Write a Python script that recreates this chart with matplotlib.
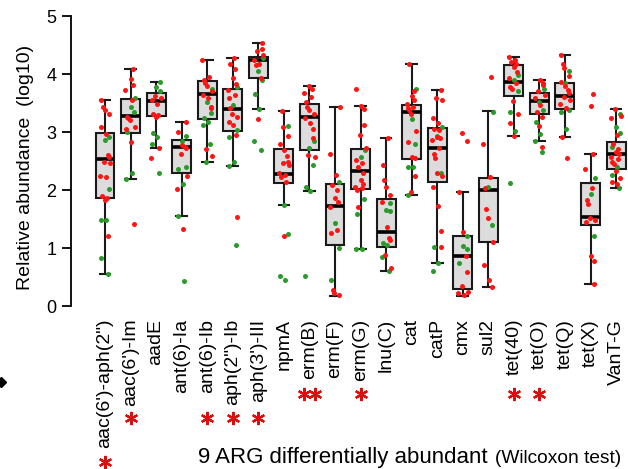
import numpy as np
import matplotlib
matplotlib.use("Agg")
import matplotlib.pyplot as plt
from matplotlib.transforms import blended_transform_factory

plt.rcParams["font.family"] = ["Liberation Sans", "DejaVu Sans"]

genes = ["aac(6')-aph(2\")", "aac(6')-Im", "aadE", "ant(6)-Ia", "ant(6)-Ib",
         "aph(2\")-Ib", "aph(3')-III", "npmA", "erm(B)", "erm(F)", "erm(G)",
         "lnu(C)", "cat", "catP", "cmx", "sul2", "tet(40)", "tet(O)", "tet(Q)",
         "tet(X)", "VanT-G"]

# box statistics (log10 relative abundance)
q1 = [1.87, 2.98, 3.28, 2.30, 3.23, 3.02, 3.94, 2.13, 2.69, 1.05, 2.01,
      1.02, 2.54, 2.14, 0.30, 1.11, 3.63, 3.32, 3.40, 1.40, 2.36]
med = [2.53, 3.28, 3.54, 2.74, 3.66, 3.40, 4.25, 2.27, 3.26, 1.72, 2.32,
       1.28, 3.34, 2.72, 0.86, 2.00, 3.87, 3.54, 3.62, 1.54, 2.62]
q3 = [2.98, 3.57, 3.68, 2.87, 3.88, 3.74, 4.29, 2.70, 3.48, 2.10, 2.70,
      1.84, 3.47, 3.07, 1.20, 2.21, 4.15, 3.68, 3.85, 2.12, 2.83]
whislo = [0.55, 2.19, 2.73, 1.55, 2.48, 2.41, 3.39, 1.74, 1.99, 0.18, 0.98,
          0.60, 1.91, 0.75, 0.18, 0.33, 2.94, 2.84, 2.91, 0.38, 2.03]
whishi = [3.56, 4.08, 3.86, 3.17, 4.24, 4.27, 4.53, 3.37, 3.79, 3.44, 3.45,
          2.89, 4.18, 3.72, 1.97, 3.37, 4.29, 3.90, 4.33, 2.63, 3.40]

# individual samples, red group
red_values = [
    [3.56, 3.43, 3.38, 3.32, 3.09, 2.96, 2.60, 2.57, 2.49, 2.46, 2.25, 2.23, 1.90, 1.87, 1.83, 1.21],
    [4.08, 3.91, 3.81, 3.72, 3.55, 3.26, 3.24, 3.21, 3.09, 3.06, 2.83, 1.42],
    [3.62, 3.58, 3.55, 3.49, 3.32, 3.29, 3.26, 2.73, 2.55],
    [3.17, 3.00, 2.78, 2.75, 2.73, 2.63, 2.24, 2.02, 1.32],
    [4.24, 3.95, 3.90, 3.84, 3.79, 3.70, 3.64, 3.58, 3.44, 3.41, 2.70, 2.59],
    [4.27, 4.17, 4.08, 3.93, 3.83, 3.72, 3.64, 3.58, 3.41, 3.32, 3.26, 3.18, 3.12, 2.95, 1.53],
    [4.53, 4.44, 4.39, 4.33, 4.24, 4.18, 4.15, 3.93, 3.22],
    [3.37, 3.08, 2.94, 2.80, 2.69, 2.59, 2.49, 2.46, 2.43, 2.29, 2.26, 2.23, 2.14, 1.20],
    [3.79, 3.74, 3.67, 3.60, 3.52, 3.44, 3.38, 3.32, 3.24, 3.15, 3.06, 2.89, 2.60, 2.57],
    [3.44, 2.63, 2.26, 2.09, 2.00, 1.86, 1.80, 1.71, 1.31, 1.26, 0.28, 0.23, 0.19],
    [3.74, 3.45, 3.39, 3.12, 2.95, 2.72, 2.52, 2.46, 2.40, 2.29, 2.17, 2.11, 2.06, 2.03, 2.00, 1.70],
    [2.89, 2.43, 2.17, 2.06, 1.91, 1.80, 1.37, 1.17, 1.14, 0.88, 0.65],
    [4.18, 3.70, 3.62, 3.56, 3.49, 3.44, 3.41, 3.38, 3.32, 3.02, 2.83, 2.57, 2.55, 2.24, 1.97],
    [3.72, 3.58, 3.56, 3.24, 3.15, 3.06, 3.03, 2.92, 2.89, 2.86, 2.72, 2.63, 2.55, 2.30, 2.24, 2.05, 1.72, 1.30, 1.01],
    [2.99, 2.84, 1.97, 1.28, 0.86, 0.59, 0.34, 0.25, 0.22, 0.19],
    [3.95, 2.79, 2.22, 2.03, 1.68, 1.51, 1.11, 0.71, 0.45, 0.33],
    [4.29, 4.25, 4.21, 4.18, 4.13, 4.03, 3.93, 3.84, 3.78, 3.74, 3.54, 3.32, 3.15, 2.94],
    [3.90, 3.85, 3.81, 3.70, 3.64, 3.58, 3.47, 3.35, 3.26, 3.10, 2.75],
    [4.33, 4.18, 4.10, 3.97, 3.87, 3.79, 3.72, 3.67, 3.60, 3.55, 3.49, 3.42, 2.91, 2.55],
    [3.65, 3.45, 2.63, 2.37, 2.03, 1.82, 1.76, 1.51, 1.48, 1.45, 0.87, 0.78, 0.38],
    [3.40, 3.28, 3.25, 2.95, 2.80, 2.70, 2.66, 2.63, 2.57, 2.53, 2.49, 2.45, 2.32, 2.20, 2.14, 2.10],
]

# individual samples, green group
green_values = [
    [2.91, 2.87, 2.02, 1.49, 1.48, 0.82, 0.55],
    [3.58, 3.44, 3.35, 3.00, 2.30, 2.19],
    [3.86, 3.78, 3.70, 2.98, 2.91, 2.80, 2.29],
    [2.93, 2.85, 2.40, 2.37, 2.11, 1.55, 0.43],
    [3.75, 3.52, 3.33, 3.24, 3.18, 3.12, 2.79, 2.48],
    [3.78, 3.47, 3.03, 2.92, 2.49, 2.41, 1.05],
    [4.28, 4.06, 3.90, 3.65, 3.39, 2.84, 2.69],
    [3.10, 1.74, 1.24, 0.52, 0.44],
    [2.84, 2.72, 2.44, 2.06, 1.99, 0.52],
    [2.14, 1.44, 1.00, 0.45],
    [2.69, 2.57, 1.84, 1.59, 0.98, 0.98],
    [1.77, 1.65, 1.63, 1.08, 1.05, 0.85, 0.60],
    [3.75, 3.22, 2.79, 2.40, 2.39, 1.91],
    [3.09, 2.93, 2.30, 1.01, 0.75, 0.61],
    [1.20, 1.03, 0.98, 0.74],
    [3.35, 2.06, 1.39],
    [3.98, 3.90, 3.70, 3.35, 3.02, 2.13],
    [3.74, 3.52, 3.38, 3.18, 2.96, 2.84, 2.65],
    [4.05, 3.84, 3.38, 3.35, 3.06],
    [2.20, 1.94, 1.21],
    [3.32, 3.09, 2.98, 2.75, 2.40, 2.26, 2.03],
]

# number of significance stars under each gene
stars = [1, 1, 0, 0, 1, 1, 1, 0, 2, 0, 1, 0, 0, 0, 0, 0, 1, 1, 0, 0, 0]

# fixed horizontal spread for the dots
jitter = [-0.14, 0.09, -0.04, 0.17, -0.2, 0.04, 0.13, -0.09, 0.0, 0.2,
          -0.16, 0.07, -0.11, 0.15, -0.02, 0.11, -0.18, 0.02]

fig = plt.figure(figsize=(6.28, 4.69), dpi=100)
ax = fig.add_axes([0.1131, 0.329, 0.887, 0.649])

pos = np.arange(1, len(genes) + 1)
stats = []
for i in range(len(genes)):
    stats.append(dict(med=med[i], q1=q1[i], q3=q3[i],
                      whislo=whislo[i], whishi=whishi[i], fliers=[]))

ax.bxp(stats, positions=pos, widths=0.74, capwidths=0.42, patch_artist=True,
       showfliers=False,
       boxprops=dict(facecolor="#dcdcdc", edgecolor="#1a1a1a", linewidth=1.5),
       medianprops=dict(color="black", linewidth=2.6),
       whiskerprops=dict(color="#1a1a1a", linewidth=1.5),
       capprops=dict(color="#1a1a1a", linewidth=1.5), zorder=2)

for i in range(len(genes)):
    g = green_values[i]
    r = red_values[i]
    gx = [pos[i] + jitter[(k * 5 + 3) % len(jitter)] for k in range(len(g))]
    rx = [pos[i] + jitter[(k * 7 + i) % len(jitter)] for k in range(len(r))]
    ax.plot(gx, g, "o", ms=3.6, mew=0, color="#2a9a2a", zorder=3)
    ax.plot(rx, r, "o", ms=3.6, mew=0, color="#ff1414", zorder=4)

ax.set_xlim(-0.33, 21.47)
ax.set_ylim(-0.15, 5.1)
for s in ["top", "right", "bottom"]:
    ax.spines[s].set_visible(False)
ax.spines["left"].set_bounds(0, 5)
ax.spines["left"].set_linewidth(1.3)
ax.set_yticks([0, 1, 2, 3, 4, 5])
ax.tick_params(axis="y", length=6.5, width=1.3, labelsize=13, pad=4)
ax.set_xticks(pos)
ax.set_xticklabels(genes, rotation=90, fontsize=14)
ax.tick_params(axis="x", length=0, pad=3)

fig.text(0.04, 0.642, "Relative abundance  (log10)", rotation=90,
         ha="center", va="center", fontsize=14)

# significance stars below the labels
trans = blended_transform_factory(ax.transData, fig.transFigure)
row_y = [0.014, 0.108, 0, 0, 0.108, 0.108, 0.108, 0, 0.16, 0, 0.16,
         0, 0, 0, 0, 0, 0.16, 0.16, 0, 0, 0]
for i, n in enumerate(stars):
    if n == 0:
        continue
    offs = [0.0] if n == 1 else [-0.22, 0.22]
    for o in offs:
        ax.plot(pos[i] + o, row_y[i], marker=(6, 2, 0), ms=9.5, mew=1.6,
                color="#d81010", transform=trans, clip_on=False)

fig.text(0.315, 0.0128, "9 ARG differentially abundant", fontsize=16,
         va="baseline", ha="left")
fig.text(0.789, 0.0128, "(Wilcoxon test)", fontsize=13.8,
         va="baseline", ha="left")

ax.plot([0.002], [1 - 382 / 469], marker="D", ms=5, color="black",
        transform=fig.transFigure, clip_on=False)

fig.savefig("out.png", dpi=100)
